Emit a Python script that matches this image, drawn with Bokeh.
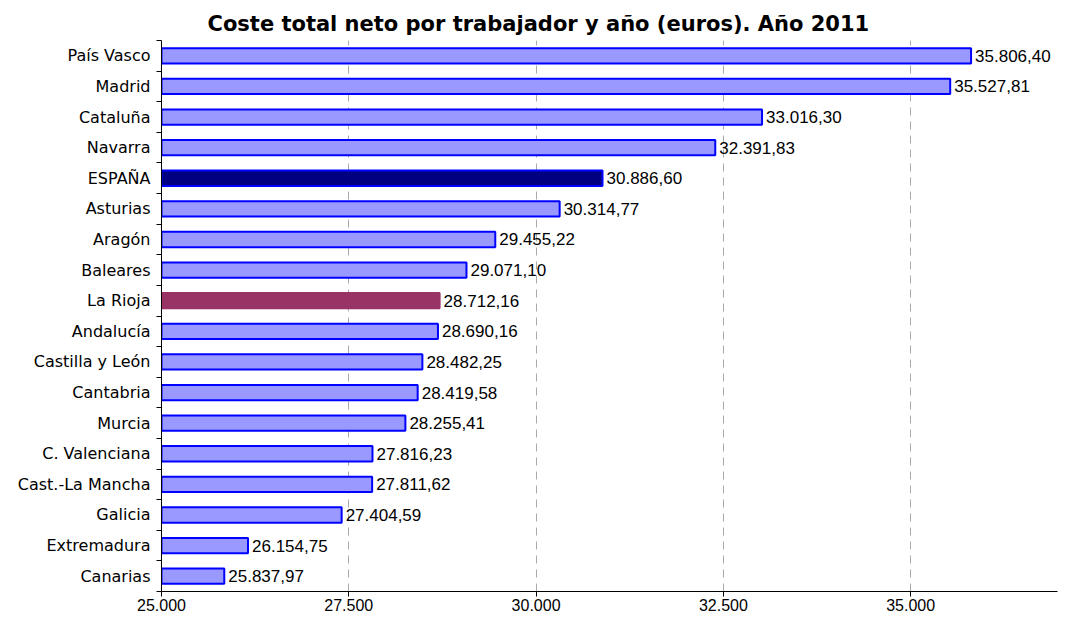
from bokeh.plotting import figure
from bokeh.models import ColumnDataSource, Range1d, FixedTicker
from bokeh.core.properties import value
from bokeh.embed import file_html
from bokeh.resources import INLINE

# ---- data ----
regions = ["País Vasco", "Madrid", "Cataluña", "Navarra", "ESPAÑA", "Asturias",
           "Aragón", "Baleares", "La Rioja", "Andalucía", "Castilla y León",
           "Cantabria", "Murcia", "C. Valenciana", "Cast.-La Mancha", "Galicia",
           "Extremadura", "Canarias"]
costs = [35806.40, 35527.81, 33016.30, 32391.83, 30886.60, 30314.77,
         29455.22, 29071.10, 28712.16, 28690.16, 28482.25,
         28419.58, 28255.41, 27816.23, 27811.62, 27404.59,
         26154.75, 25837.97]
x_ticks = [25000, 27500, 30000, 32500, 35000]
title_text = "Coste total neto por trabajador y año (euros). Año 2011"

def es_fmt(v, dec=2):
    s = f"{v:,.{dec}f}"
    return s.replace(",", "X").replace(".", ",").replace("X", ".")

n = len(regions)
ypos = [n - 1 - i + 0.5 for i in range(n)]
fills = []
lines = []
for r in regions:
    if r == "ESPAÑA":
        fills.append("#000080"); lines.append("#0000FF")
    elif r == "La Rioja":
        fills.append("#993366"); lines.append("#993366")
    else:
        fills.append("#9999FF"); lines.append("#0000FF")

src = ColumnDataSource(dict(y=ypos, v=costs, name=regions, fill=fills, line=lines,
                            lbl=[es_fmt(c) for c in costs]))

W, H = 1059, 615
p = figure(width=W, height=H, output_backend="svg", toolbar_location=None,
           x_range=Range1d(25000, 36960), y_range=Range1d(0, n),
           min_border_left=161, min_border_right=2, min_border_top=40,
           min_border_bottom=24)
p.outline_line_color = None
p.background_fill_color = "white"

p.title.text = title_text
p.title.align = "left"
p.title.offset = 46
p.title.text_font = "DejaVu Sans"
p.title.text_font_size = "21px"
p.title.text_font_style = "bold"
p.title.text_color = "black"
p.title.standoff = 9

p.hbar(y="y", left=25000, right="v", height=0.5, source=src,
       fill_color="fill", line_color="line", line_width=2)

p.text(x="v", y="y", text="lbl", source=src, x_offset=4,
       text_baseline="middle", text_align="left",
       text_font=value("Liberation Sans"), text_font_size="17px", text_color="black")

# x axis
xa = p.xaxis[0]
xa.ticker = FixedTicker(ticks=x_ticks)
xa.major_label_overrides = {t: es_fmt(t, 0) for t in x_ticks}
xa.major_tick_out = 5
xa.major_tick_in = 0
xa.minor_tick_out = 0
xa.minor_tick_in = 0
xa.axis_line_color = "black"
xa.major_tick_line_color = "black"
xa.major_label_text_font = "Liberation Sans"
xa.major_label_text_font_size = "16px"
xa.major_label_text_color = "black"
xa.major_label_standoff = 2

# y axis: labels at centres, ticks at boundaries
ya = p.yaxis[0]
ya.ticker = FixedTicker(ticks=ypos, minor_ticks=list(range(n + 1)))
ya.major_label_overrides = {y: r for y, r in zip(ypos, regions)}
ya.major_tick_out = 0
ya.major_tick_in = 0
ya.minor_tick_out = 5
ya.minor_tick_in = 0
ya.minor_tick_line_color = "black"
ya.axis_line_color = "black"
ya.major_label_text_font = "DejaVu Sans"
ya.major_label_text_font_size = "16px"
ya.major_label_text_color = "black"
ya.major_label_standoff = 6

p.ygrid.grid_line_color = None
p.xgrid.ticker = FixedTicker(ticks=x_ticks[1:])
p.xgrid.grid_line_color = "#aaaaaa"
p.xgrid.grid_line_dash = "8 6"
p.xgrid.grid_line_width = 1

open("out.html", "w").write(file_html(p, INLINE))
